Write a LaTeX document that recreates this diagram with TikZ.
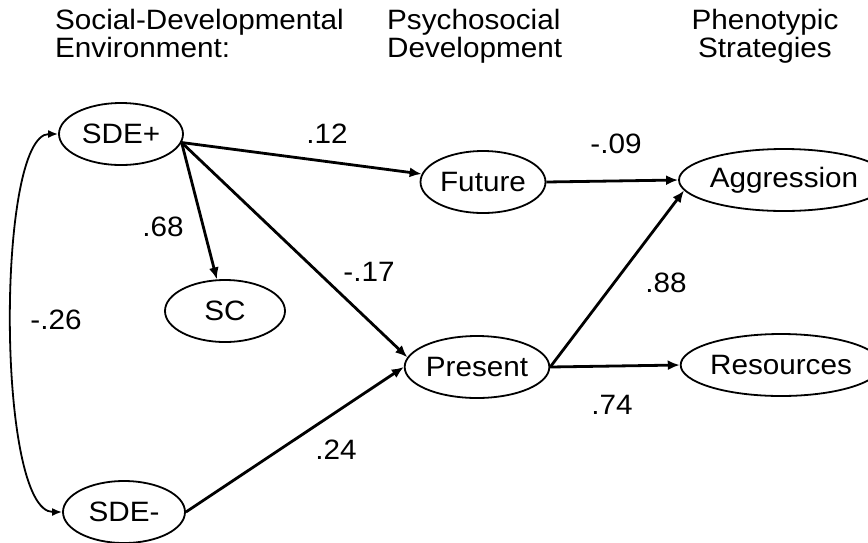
\documentclass[tikz,border=0pt]{standalone}
\usepackage{fontspec}
\setmainfont{Liberation Sans}[FakeStretch=1.06]
\usetikzlibrary{shapes.geometric,arrows.meta}

\begin{document}
\begin{tikzpicture}[x=1pt,y=-1pt,
    every node/.style={font=\fontsize{28}{28}\selectfont, inner sep=0pt},
    latent/.style={ellipse, draw, line width=1.8pt, minimum height=62pt},
    effect/.style={line width=2.8pt, -{Latex[length=12pt,width=10pt]}},
    corr/.style={line width=1.8pt, {Latex[length=10pt,width=8pt]}-{Latex[length=10pt,width=8pt]}}]
                \useasboundingbox (0,0) rectangle (868,542);
                % column headings
                \node[anchor=north west, align=left] (hsde) at (55,9) {Social-Developmental\\Environment:};
                \node[anchor=north west, align=left] (hpsy) at (387,9) {Psychosocial\\Development};
                \node[anchor=north, align=center] (hphe) at (765,9) {Phenotypic\\Strategies};
                % latent variables
                \node[latent, minimum width=124pt] (sdep) at (121,134) {SDE+};
                \node[latent, minimum width=120pt] (sc) at (225,311) {SC};
                \node[latent, minimum width=122pt] (sdem) at (124,512) {SDE-};
                \node[latent, minimum width=125pt] (future) at (483,182) {Future};
                \node[latent, minimum width=125pt] (present) at (477,367) {Present};
                \node[latent, minimum width=166pt] (aggr) at (784,180) {Aggression};
                \node[latent, minimum width=172pt] (res) at (781,365) {Resources};
                % paths
                \draw[effect] (sdep.-8) -- (future);
                \draw[effect] (sdep.-8) -- (sc);
                \draw[effect] (sdep.-8) -- (present.172);
                \draw[effect] (sdem.east) -- (present.west);
                \draw[effect] (future.east) -- (aggr.west);
                \draw[effect] (present.east) -- (aggr.186);
                \draw[effect] (present.east) -- (res.west);
                \draw[corr] (sdep.west) .. controls +(-62,0) and +(-66,0) .. (sdem.west);
                % coefficients
                \node (c12) at (327,134) {.12};
                \node (c68) at (163,227) {.68};
                \node (c17) at (369,272) {-.17};
                \node (c26) at (56,320) {-.26};
                \node (c24) at (336,450) {.24};
                \node (c09) at (616,144) {-.09};
                \node (c88) at (666,283) {.88};
                \node (c74) at (612,405) {.74};
\end{tikzpicture}
\end{document}
